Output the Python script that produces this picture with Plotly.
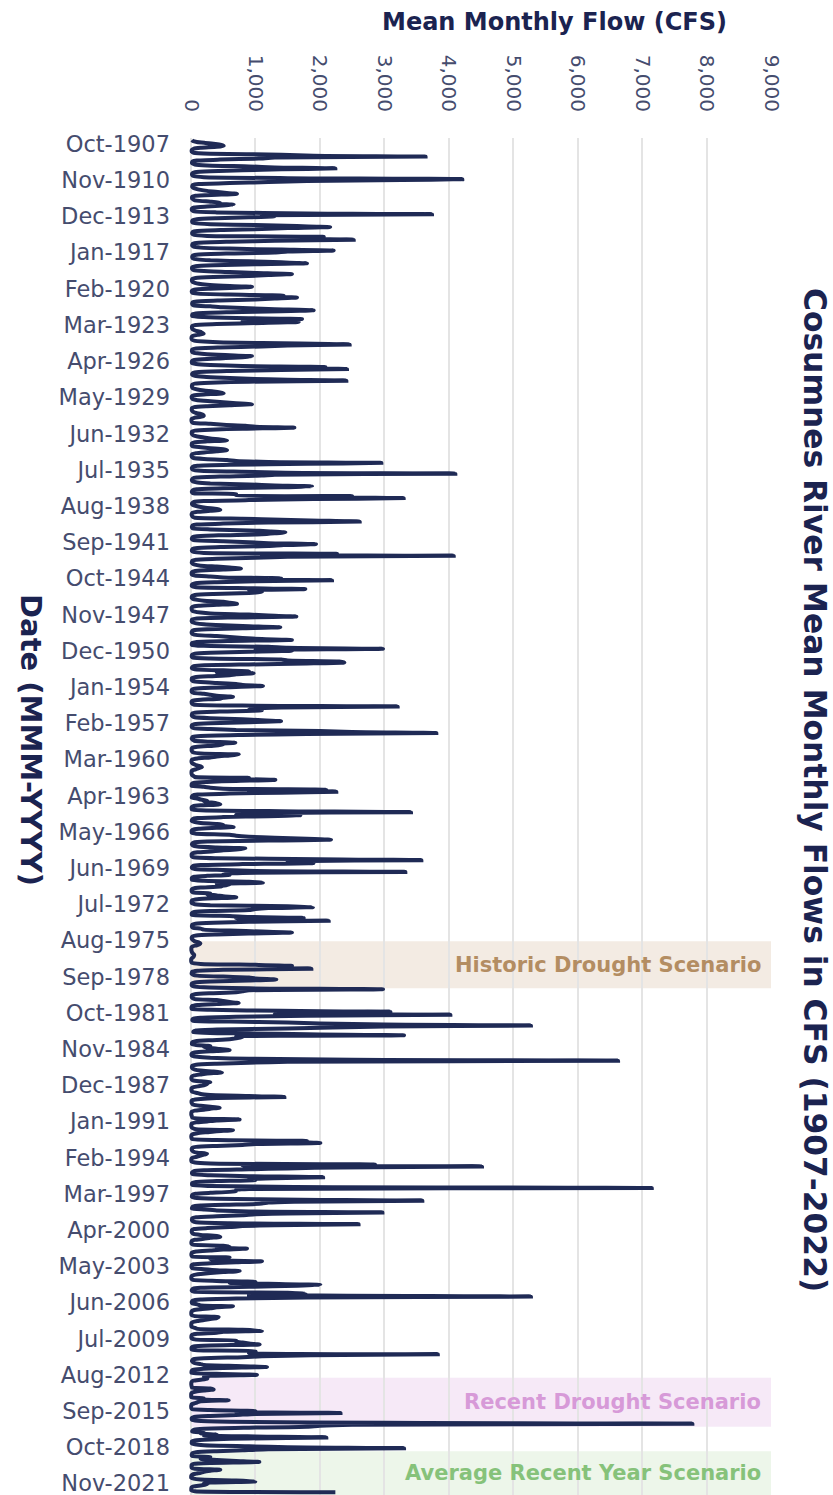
import plotly.graph_objects as go

# Mean monthly flow (cfs), Cosumnes River, one row of 12 values per water year (Oct..Sep)
flows_1908_1919 = [
    15, 30, 90, 220, 380, 470, 507, 400, 150, 40, 15, 10,
    12, 40, 300, 1400, 1900, 3640, 1300, 1050, 450, 90, 25, 15,
    20, 60, 250, 900, 1300, 2240, 1400, 800, 300, 60, 20, 15,
    20, 50, 200, 1500, 4210, 3270, 1800, 1200, 600, 120, 30, 20,
    20, 40, 80, 150, 250, 380, 520, 714, 400, 70, 20, 15,
    20, 40, 90, 300, 450, 400, 662, 500, 250, 50, 15, 12,
    20, 50, 400, 1800, 3740, 1100, 1300, 900, 400, 90, 25, 18,
    20, 60, 300, 1000, 1645, 2160, 1500, 1100, 500, 100, 25, 18,
    20, 50, 250, 2060, 1500, 1800, 2525, 1300, 600, 120, 30, 20,
    20, 40, 150, 600, 1412, 2214, 1500, 1300, 600, 120, 30, 20,
    20, 30, 100, 300, 900, 1400, 1800, 1000, 350, 70, 20, 15,
    20, 40, 200, 600, 1024, 1567, 1200, 900, 350, 70, 20, 15,
]
flows_1920_1939 = [
    15, 25, 60, 120, 250, 500, 947, 700, 300, 50, 15, 12,
    20, 100, 600, 1438, 1100, 1645, 1300, 1000, 450, 90, 25, 18,
    20, 40, 300, 500, 900, 1300, 1904, 1400, 600, 110, 25, 18,
    20, 200, 700, 1723, 900, 800, 1671, 1100, 400, 70, 20, 15,
    15, 20, 40, 80, 150, 170, 197, 120, 40, 12, 8, 8,
    15, 50, 200, 500, 1697, 2462, 1500, 1100, 450, 80, 20, 15,
    15, 25, 100, 250, 600, 947, 800, 500, 175, 40, 15, 12,
    15, 80, 300, 800, 2085, 1500, 2421, 1400, 600, 120, 30, 18,
    20, 60, 200, 500, 900, 1500, 2411, 900, 300, 60, 20, 15,
    15, 20, 40, 100, 200, 350, 450, 507, 200, 40, 12, 10,
    15, 30, 100, 300, 500, 700, 947, 600, 250, 50, 15, 12,
    12, 20, 40, 80, 150, 190, 197, 150, 50, 12, 8, 8,
    12, 30, 300, 500, 843, 1000, 1604, 800, 300, 60, 15, 12,
    12, 20, 40, 100, 200, 300, 450, 560, 250, 50, 15, 12,
    12, 25, 150, 300, 500, 560, 400, 250, 80, 20, 10, 10,
    15, 40, 200, 560, 700, 1200, 2954, 1800, 600, 100, 25, 15,
    15, 30, 150, 800, 1464, 4102, 1300, 1100, 450, 90, 25, 15,
    15, 30, 100, 300, 900, 1300, 1878, 1400, 500, 90, 25, 15,
    15, 40, 700, 700, 2500, 2200, 3300, 1900, 900, 200, 40, 20,
    15, 30, 80, 150, 250, 400, 455, 300, 100, 25, 12, 10,
]
flows_1940_1959 = [
    15, 25, 60, 800, 1400, 2000, 2618, 1200, 500, 90, 25, 15,
    15, 30, 300, 900, 1231, 1464, 1300, 1100, 450, 90, 25, 15,
    15, 40, 500, 900, 1200, 1940, 1438, 1200, 500, 100, 25, 15,
    15, 40, 200, 2266, 1100, 4077, 1500, 1000, 400, 80, 20, 15,
    12, 25, 60, 150, 400, 600, 776, 500, 150, 30, 12, 10,
    12, 60, 300, 500, 1400, 1200, 2188, 1000, 400, 70, 20, 12,
    15, 80, 900, 1774, 900, 1000, 1100, 900, 350, 60, 18, 12,
    12, 30, 100, 200, 500, 600, 714, 400, 120, 25, 10, 10,
    12, 20, 60, 150, 300, 900, 1200, 1635, 600, 90, 20, 12,
    12, 25, 80, 200, 500, 900, 1386, 800, 250, 40, 15, 10,
    12, 25, 100, 400, 600, 800, 1100, 1567, 600, 90, 20, 12,
    15, 200, 1200, 1500, 2980, 1000, 1567, 900, 300, 60, 18, 12,
    12, 30, 300, 1400, 1500, 2300, 2380, 1800, 900, 150, 30, 15,
    15, 60, 500, 900, 400, 972, 700, 600, 300, 60, 15, 12,
    12, 30, 150, 400, 700, 800, 1117, 700, 200, 40, 12, 10,
    12, 40, 200, 300, 400, 652, 500, 450, 150, 30, 10, 10,
    15, 40, 800, 3207, 1400, 1000, 900, 1100, 500, 90, 20, 15,
    12, 25, 60, 300, 800, 1100, 1397, 900, 300, 50, 15, 10,
    12, 40, 300, 700, 2000, 2500, 3807, 1800, 800, 150, 30, 15,
    12, 25, 50, 300, 688, 400, 500, 350, 100, 25, 10, 10,
]
flows_1960_1979 = [
    10, 20, 40, 150, 740, 600, 400, 300, 100, 20, 10, 8,
    10, 20, 50, 80, 150, 170, 120, 80, 30, 10, 8, 8,
    10, 15, 40, 60, 900, 800, 1309, 700, 250, 40, 12, 10,
    10, 200, 300, 500, 2100, 900, 2255, 1400, 600, 100, 25, 15,
    12, 100, 150, 250, 200, 300, 400, 455, 150, 30, 10, 10,
    12, 150, 1400, 3414, 900, 700, 1697, 1200, 500, 100, 25, 15,
    12, 60, 150, 400, 500, 500, 662, 400, 120, 25, 10, 10,
    12, 80, 600, 700, 900, 1300, 1800, 2173, 1200, 250, 40, 18,
    15, 30, 100, 400, 843, 700, 500, 350, 100, 25, 10, 10,
    12, 40, 400, 1981, 3575, 1500, 1800, 1900, 800, 150, 30, 15,
    15, 60, 500, 1000, 3326, 800, 500, 600, 250, 50, 15, 12,
    15, 200, 900, 1117, 400, 600, 500, 450, 150, 30, 12, 10,
    12, 30, 300, 250, 400, 500, 703, 350, 100, 20, 10, 8,
    12, 60, 300, 1500, 1893, 1200, 1000, 900, 300, 50, 15, 10,
    15, 600, 900, 1749, 700, 1000, 2137, 900, 350, 70, 20, 15,
    15, 30, 150, 200, 600, 1100, 1567, 900, 400, 80, 20, 12,
    12, 20, 40, 60, 120, 145, 130, 90, 30, 10, 6, 6,
    6, 10, 15, 25, 40, 50, 45, 35, 15, 5, 3, 3,
    5, 15, 150, 1000, 1567, 1300, 1400, 1868, 500, 100, 20, 12,
    10, 30, 100, 500, 900, 1000, 1324, 900, 300, 60, 15, 10,
]
flows_1980_1999 = [
    12, 40, 200, 900, 2980, 900, 800, 700, 300, 60, 15, 12,
    12, 25, 60, 400, 500, 600, 740, 400, 100, 20, 10, 8,
    12, 300, 1400, 3094, 1500, 1300, 4025, 1800, 700, 150, 40, 20,
    30, 600, 1500, 2000, 3000, 5275, 3000, 2200, 1500, 400, 80, 40,
    40, 900, 1800, 3306, 700, 800, 700, 600, 300, 70, 20, 15,
    15, 80, 300, 200, 300, 450, 600, 400, 120, 25, 10, 8,
    20, 100, 300, 900, 2500, 6627, 1500, 900, 400, 80, 20, 15,
    15, 25, 60, 150, 350, 481, 250, 150, 50, 15, 8, 6,
    10, 30, 150, 300, 200, 250, 200, 120, 40, 10, 6, 6,
    10, 30, 100, 150, 300, 900, 1449, 400, 150, 30, 10, 8,
    10, 20, 40, 150, 300, 445, 300, 200, 60, 15, 6, 5,
    5, 10, 15, 20, 100, 755, 400, 250, 80, 15, 6, 5,
    5, 10, 30, 80, 652, 400, 250, 100, 30, 8, 5, 5,
    8, 20, 400, 1800, 1600, 2007, 1000, 800, 400, 80, 20, 12,
    12, 20, 40, 100, 248, 200, 150, 100, 30, 8, 5, 5,
    10, 60, 300, 2855, 800, 4516, 2315, 1500, 900, 200, 40, 20,
    15, 30, 300, 900, 2050, 1300, 900, 1000, 400, 80, 20, 15,
    20, 300, 1600, 7150, 900, 700, 700, 600, 300, 70, 20, 15,
    15, 60, 400, 1700, 3590, 1600, 1200, 1100, 700, 150, 30, 18,
    15, 200, 400, 900, 2970, 1500, 1000, 800, 400, 80, 20, 15,
]
flows_2000_2022 = [
    15, 30, 80, 600, 2600, 1300, 800, 600, 250, 50, 15, 12,
    12, 20, 40, 150, 400, 455, 300, 200, 60, 15, 8, 6,
    8, 30, 500, 600, 400, 869, 500, 300, 80, 15, 8, 6,
    8, 20, 600, 500, 300, 400, 1102, 700, 300, 40, 10, 8,
    8, 20, 200, 400, 755, 500, 300, 150, 40, 10, 6, 5,
    8, 30, 400, 1000, 600, 1200, 2007, 1650, 900, 150, 30, 15,
    12, 40, 1500, 1780, 900, 2000, 5275, 1800, 700, 150, 30, 15,
    12, 20, 100, 150, 652, 400, 300, 150, 40, 10, 6, 5,
    5, 10, 60, 430, 400, 300, 200, 100, 30, 8, 5, 5,
    5, 10, 60, 100, 800, 1102, 500, 400, 100, 20, 8, 6,
    6, 15, 80, 700, 700, 800, 900, 1066, 300, 40, 10, 8,
    10, 100, 1000, 1000, 900, 3830, 1860, 1100, 800, 200, 40, 20,
    15, 30, 60, 150, 200, 700, 1180, 500, 150, 30, 10, 8,
    8, 400, 1024, 300, 200, 250, 250, 150, 40, 10, 6, 5,
    5, 8, 10, 15, 300, 352, 200, 80, 20, 5, 3, 3,
    3, 5, 200, 150, 585, 150, 100, 60, 15, 4, 3, 3,
    5, 20, 300, 1000, 700, 2320, 1000, 700, 300, 50, 15, 10,
    15, 100, 600, 3000, 7780, 2500, 2000, 1800, 900, 200, 50, 25,
    20, 200, 150, 400, 200, 1000, 2100, 900, 300, 60, 15, 12,
    12, 60, 200, 900, 1500, 3306, 1200, 800, 400, 80, 20, 15,
    10, 20, 300, 200, 150, 400, 700, 1060, 300, 40, 10, 8,
    8, 10, 60, 455, 300, 200, 150, 80, 20, 5, 3, 3,
    40, 150, 700, 998, 300, 200, 250, 150, 40, 10, 5, 5,
    5, 60, 2240,
]

# Date axis tick labels (every 37 months)
date_ticks = [
    "Oct-1907", "Nov-1910", "Dec-1913", "Jan-1917", "Feb-1920", "Mar-1923",
    "Apr-1926", "May-1929", "Jun-1932", "Jul-1935", "Aug-1938", "Sep-1941",
    "Oct-1944", "Nov-1947", "Dec-1950", "Jan-1954", "Feb-1957", "Mar-1960",
    "Apr-1963", "May-1966", "Jun-1969", "Jul-1972", "Aug-1975", "Sep-1978",
    "Oct-1981", "Nov-1984", "Dec-1987", "Jan-1991", "Feb-1994", "Mar-1997",
    "Apr-2000", "May-2003", "Jun-2006", "Jul-2009", "Aug-2012", "Sep-2015",
    "Oct-2018", "Nov-2021",
]
flow_ticks = [0, 1000, 2000, 3000, 4000, 5000, 6000, 7000, 8000, 9000]

# Scenario periods: label, first month, last month
scenario_names = ["Historic Drought Scenario", "Recent Drought Scenario", "Average Recent Year Scenario"]
scenario_start = ["Jan-1976", "Mar-2013", "Jun-2019"]
scenario_end = ["Jan-1980", "May-2017", None]

MONTH_ABBR = ["Jan", "Feb", "Mar", "Apr", "May", "Jun",
              "Jul", "Aug", "Sep", "Oct", "Nov", "Dec"]

flows = (flows_1908_1919 + flows_1920_1939 + flows_1940_1959 +
         flows_1960_1979 + flows_1980_1999 + flows_2000_2022)

# month categories, starting October 1907
months = []
yr, mo = 1907, 10
for _ in flows:
    months.append(f"{MONTH_ABBR[mo - 1]}-{yr}")
    mo += 1
    if mo > 12:
        mo, yr = 1, yr + 1
month_pos = {m: i for i, m in enumerate(months)}

NAVY = "#1f2a55"
LABEL = "#454c6e"
FONT = "DejaVu Sans"

W, H = 833, 1495
ML, MR, MT, MB = 187, 62, 138, 0
Y_TOP, Y_BOTTOM = -2.04, 1384.8

fig = go.Figure()
fig.add_trace(go.Scatter(
    x=flows, y=months, mode="lines",
    line=dict(color=NAVY, width=4, shape="spline", smoothing=0.5),
    hoverinfo="x+y", showlegend=False,
))

band_fill = ["rgba(236,222,210,0.62)", "rgba(240,220,242,0.62)", "rgba(222,238,216,0.55)"]
band_text = ["#b38d62", "#d79ad8", "#86c27a"]
for name, s, e, fc, tc in zip(scenario_names, scenario_start, scenario_end, band_fill, band_text):
    y0 = month_pos[s]
    y1 = month_pos[e] if e else Y_BOTTOM
    fig.add_shape(type="rect", xref="x", yref="y", x0=0, x1=9000, y0=y0, y1=y1,
                  fillcolor=fc, line=dict(width=0), layer="below")
    fig.add_annotation(x=8870, y=(y0 + y1) / 2, xref="x", yref="y", text=name,
                       showarrow=False, xanchor="right", yanchor="middle",
                       font=dict(family=FONT, size=21, color=tc, weight="bold"))

pw = W - ML - MR
ph = H - MT - MB
def px_to_paper(px, py):
    return (px - ML) / pw, 1 - (py - MT) / ph

tx, ty = px_to_paper(554, 22)
fig.add_annotation(x=tx, y=ty, xref="paper", yref="paper", text="Mean Monthly Flow (CFS)",
                   showarrow=False, xanchor="center", yanchor="middle",
                   font=dict(family=FONT, size=24, color="#1b2350", weight="bold"))
tx, ty = px_to_paper(815, 790)
fig.add_annotation(x=tx, y=ty, xref="paper", yref="paper",
                   text="Cosumnes River Mean Monthly Flows in CFS (1907-2022)",
                   showarrow=False, textangle=90, xanchor="center", yanchor="middle",
                   font=dict(family=FONT, size=31.3, color="#1b2350", weight="bold"))
tx, ty = px_to_paper(31, 740)
fig.add_annotation(x=tx, y=ty, xref="paper", yref="paper", text="Date (MMM-YYYY)",
                   showarrow=False, textangle=90, xanchor="center", yanchor="middle",
                   font=dict(family=FONT, size=29, color="#1b2350", weight="bold"))

fig.update_layout(
    width=W, height=H,
    margin=dict(l=ML, r=MR, t=MT, b=MB, pad=0),
    paper_bgcolor="white", plot_bgcolor="white",
    showlegend=False,
    xaxis=dict(
        side="top", range=[-62, 9000], tickmode="array", tickvals=flow_ticks,
        tickformat=",", tickangle=90, ticks="", ticklabelstandoff=22,
        tickfont=dict(family=FONT, size=20, color=LABEL),
        showgrid=True, gridcolor="#e4e4e4", gridwidth=1.5,
        zeroline=False, showline=False,
    ),
    yaxis=dict(
        type="category", categoryorder="array", categoryarray=months,
        range=[Y_BOTTOM, Y_TOP], tickmode="array", tickvals=date_ticks, ticktext=date_ticks,
        ticks="", ticklabelstandoff=16, ticklabelshift=-4,
        tickfont=dict(family=FONT, size=22.5, color=LABEL),
        showgrid=False, zeroline=False, showline=False,
    ),
)

fig.write_html("out.html")
